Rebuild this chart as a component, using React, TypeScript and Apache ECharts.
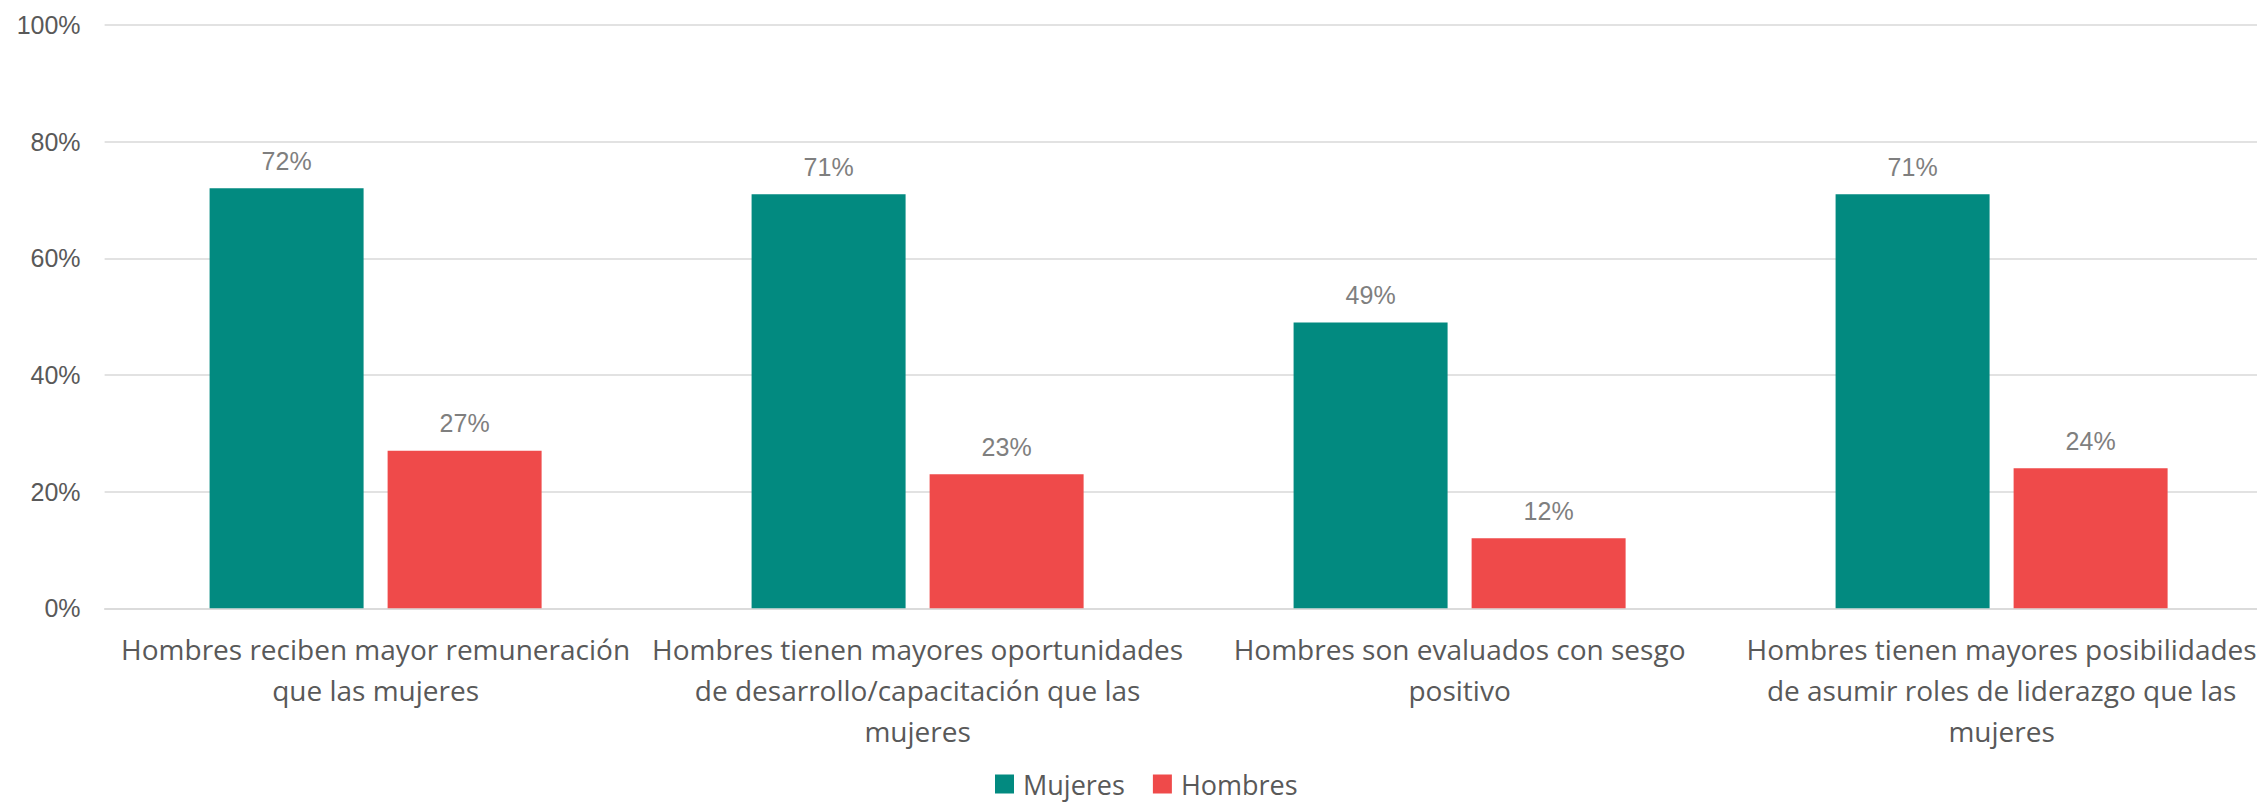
import React, { useEffect, useRef } from "react";
import * as echarts from "echarts";

const categories = [
  "Hombres reciben mayor remuneración\nque las mujeres",
  "Hombres tienen mayores oportunidades\nde desarrollo/capacitación que las\nmujeres",
  "Hombres son evaluados con sesgo\npositivo",
  "Hombres tienen mayores posibilidades\nde asumir roles de liderazgo que las\nmujeres",
];
const seriesNames = ["Mujeres", "Hombres"];
const mujeres = [72, 71, 49, 71];
const hombres = [27, 23, 12, 24];
const yTicks = { min: 0, max: 100, interval: 20 };

const TEAL = "#028A80";
const RED = "#EF4A4A";

export default function App() {
  const ref = useRef<HTMLDivElement>(null);
  useEffect(() => {
    if (!ref.current) return;
    const chart = echarts.init(ref.current, null, { renderer: "svg" });
    const labelStyle = {
      show: true,
      position: "top",
      distance: 15,
      color: "#7F7F7F",
      fontSize: 25,
      fontFamily: "Liberation Sans, Arial, sans-serif",
      formatter: "{c}%",
    };
    chart.setOption({
      animation: false,
      backgroundColor: "#ffffff",
      grid: {
        left: 104.6,
        top: 25,
        width: 2168,
        height: 583.3,
        containLabel: false,
        outerBoundsMode: "none",
      },
      legend: {
        data: seriesNames,
        left: 995,
        top: 769,
        padding: 0,
        itemWidth: 19,
        itemHeight: 19,
        itemGap: 28,
        icon: "rect",
        textStyle: {
          fontSize: 27,
          lineHeight: 30,
          color: "#595959",
          fontFamily: "Open Sans, sans-serif",
          padding: [0, 0, 0, 4],
        },
      },
      xAxis: {
        type: "category",
        data: categories,
        axisLine: { show: true, lineStyle: { color: "#D9D9D9", width: 1.5 } },
        axisTick: { show: false },
        axisLabel: {
          interval: 0,
          margin: 20,
          fontSize: 28,
          lineHeight: 41,
          color: "#595959",
          fontFamily: "Open Sans, sans-serif",
          align: "center",
        },
      },
      yAxis: {
        type: "value",
        min: yTicks.min,
        max: yTicks.max,
        interval: yTicks.interval,
        axisLine: { show: false },
        axisTick: { show: false },
        splitLine: { lineStyle: { color: "#D9D9D9", width: 1.5 } },
        axisLabel: {
          formatter: "{value}%",
          margin: 24,
          fontSize: 25,
          color: "#595959",
          fontFamily: "Liberation Sans, Arial, sans-serif",
        },
      },
      series: [
        {
          name: seriesNames[0],
          type: "bar",
          data: mujeres,
          barWidth: 154,
          barGap: "15.6%",
          itemStyle: { color: TEAL },
          label: labelStyle,
        },
        {
          name: seriesNames[1],
          type: "bar",
          data: hombres,
          barWidth: 154,
          barGap: "15.6%",
          itemStyle: { color: RED },
          label: labelStyle,
        },
      ],
    });
    return () => chart.dispose();
  }, []);
  return (
    <div
      ref={ref}
      style={{ position: "fixed", left: 0, top: 0, width: 2257, height: 804 }}
    />
  );
}
